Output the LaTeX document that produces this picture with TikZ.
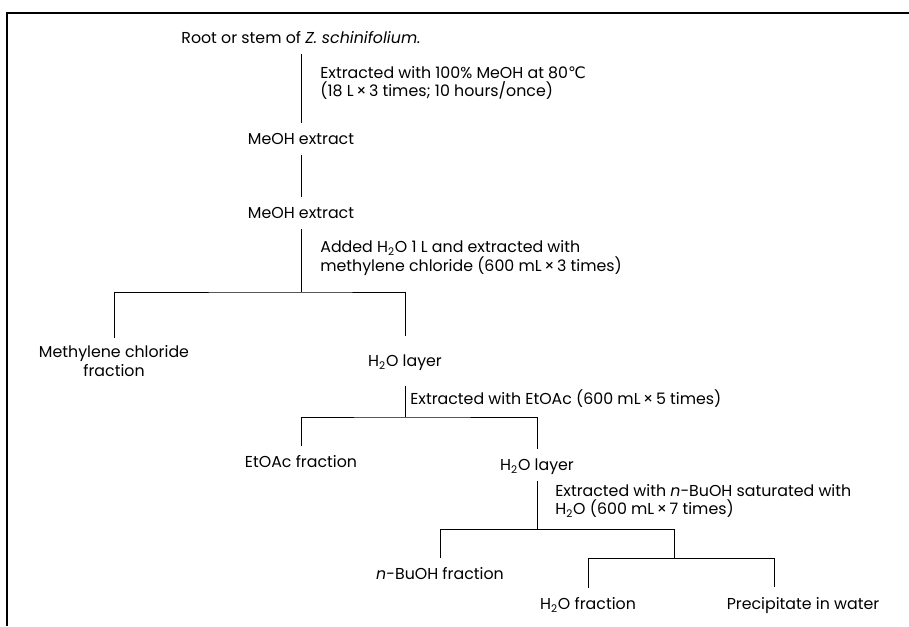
\documentclass[tikz,border=0pt]{standalone}
\usepackage{fontspec}
\setmainfont{Poppins}
\newfontfamily\symfont{DejaVu Sans}
\tikzset{>=latex}
\newcommand{\flowfont}{\fontsize{9pt}{10.5pt}\selectfont}
\newcommand{\water}{H\textsubscript{2}O}
\tikzset{
  stage/.style={font=\flowfont, inner sep=4pt, text height=1.5ex, text depth=0.3ex},
  pair/.style={font=\flowfont, inner sep=4pt, align=center},
  note/.style={font=\flowfont, anchor=west, align=left, inner sep=0pt},
  tree/.style={line width=0.5pt}
}

\begin{document}
\begin{tikzpicture}[x=0.02cm, y=-0.02cm]
\useasboundingbox (0,0) rectangle (909,626);
\draw[line width=0.8pt] (7,626) -- (7,13) -- (909,13);

\node[stage] (root) at (301,38) {Root or stem of \textit{Z. schinifolium.}};
\node[stage] (ext1) at (301,139) {MeOH extract};
\node[stage] (ext2) at (301,213) {MeOH extract};
\coordinate (sp1) at (301,292);
\node[pair] (mc) at (114,361) {Methylene chloride\\fraction};
\node[stage] (aq1) at (405,361) {\water\ layer};
\coordinate (sp2) at (405,417);
\node[stage] (etfrac) at (301,462) {EtOAc fraction};
\node[stage] (aq2) at (537,465) {\water\ layer};
\coordinate (sp3) at (537,529);
\node[stage] (bufrac) at (440,574) {\textit{n}-BuOH fraction};
\coordinate (sp4) at (674,558);
\node[stage] (aqfrac) at (588,604) {\water\ fraction};
\node[stage] (precip) at (803,604) {Precipitate in water};
\coordinate (pdrop) at (774,587);

\node[note] (n1) at (320,83) {Extracted with 100\% MeOH at 80{\symfont ℃}\\(18 L\,×\,3 times; 10 hours/once)};
\node[note] (n2) at (320,258) {Added \water\ 1 L and extracted with\\methylene chloride (600 mL\,×\,3 times)};
\node[note] (n3) at (410,399) {Extracted with EtOAc (600 mL\,×\,5 times)};
\node[note] (n4) at (555,501) {Extracted with \textit{n}-BuOH saturated with\\\water\ (600 mL\,×\,7 times)};

\draw[tree] (root) -- (ext1);
\draw[tree] (ext1) -- (ext2);
\draw[tree] (ext2) -- (sp1);
\draw[tree, shorten >=5pt] (mc) |- (sp1) -| (aq1);
\draw[tree, shorten <=5pt] (aq1) -- (sp2);
\draw[tree] (etfrac) |- (sp2) -| (aq2);
\draw[tree] (aq2) -- (sp3);
\draw[tree] (bufrac) |- (sp3) -| (sp4);
\draw[tree] (aqfrac) |- (sp4) -| (pdrop);
\end{tikzpicture}
\end{document}
